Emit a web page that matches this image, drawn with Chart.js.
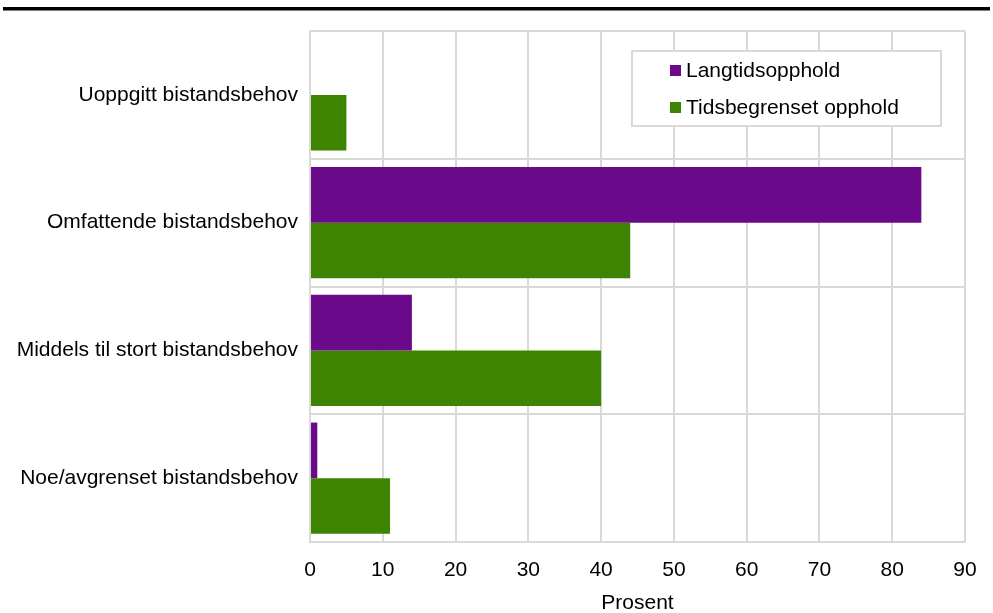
<!DOCTYPE html>
<html>
<head>
<meta charset="utf-8">
<script src="https://cdn.jsdelivr.net/npm/chart.js@4.4.0/dist/chart.umd.min.js"></script>
<style>
  body { margin: 0; background: #fff; }
  #wrap { width: 993px; height: 613px; }
</style>
</head>
<body>
<div id="wrap"><canvas id="bistandChart" width="993" height="613"></canvas></div>
<script>
const categories = [
  "Uoppgitt bistandsbehov",
  "Omfattende bistandsbehov",
  "Middels til stort bistandsbehov",
  "Noe/avgrenset bistandsbehov"
];
const langtid = [0, 84, 14, 1];
const tidsbegrenset = [5, 44, 40, 11];
const xTicks = [0, 10, 20, 30, 40, 50, 60, 70, 80, 90];

const FONT = "'Liberation Sans', Arial, sans-serif";
const GRID = "#d9d9d9";

// black rule at the top of the figure
const topRule = {
  id: "topRule",
  beforeDraw(chart) {
    const ctx = chart.ctx;
    ctx.save();
    ctx.fillStyle = "#fff";
    ctx.fillRect(0, 0, chart.width, chart.height);
    ctx.fillStyle = "#000";
    ctx.fillRect(3, 7, 987, 3.5);
    ctx.restore();
  }
};

// legend box inside the plot area
const boxLegend = {
  id: "boxLegend",
  afterDraw(chart) {
    const ctx = chart.ctx;
    ctx.save();
    ctx.fillStyle = "#fff";
    ctx.fillRect(632, 51, 309, 75);
    ctx.strokeStyle = GRID;
    ctx.lineWidth = 2;
    ctx.strokeRect(632, 51, 309, 75);
    ctx.font = "21px " + FONT;
    ctx.textBaseline = "middle";
    chart.data.datasets.forEach((ds, i) => {
      const y = 71 + i * 37;
      ctx.fillStyle = ds.backgroundColor;
      ctx.fillRect(670, y - 6, 11, 11);
      ctx.fillStyle = "#000";
      ctx.fillText(ds.label, 686, y);
    });
    ctx.restore();
  }
};

new Chart(document.getElementById("bistandChart"), {
  type: "bar",
  data: {
    labels: categories,
    datasets: [
      { label: "Langtidsopphold", data: langtid, backgroundColor: "#6a0a8a" },
      { label: "Tidsbegrenset opphold", data: tidsbegrenset, backgroundColor: "#3d8400" }
    ]
  },
  options: {
    indexAxis: "y",
    responsive: false,
    animation: false,
    layout: { padding: { top: 31, right: 28, bottom: 2, left: 0 } },
    datasets: { bar: { categoryPercentage: 0.87, barPercentage: 1 } },
    plugins: { legend: { display: false }, tooltip: { enabled: false } },
    scales: {
      x: {
        min: 0,
        max: 90,
        afterBuildTicks: (s) => { s.ticks = xTicks.map(v => ({ value: v })); },
        afterFit: (s) => { s.height = 69; },
        grid: { color: GRID, lineWidth: 2, drawTicks: false },
        border: { color: GRID, width: 2 },
        ticks: { color: "#000", font: { family: FONT, size: 21 }, padding: 16 },
        title: { display: true, text: "Prosent", color: "#000", font: { family: FONT, size: 21 }, padding: { top: 0, bottom: -5 } }
      },
      y: {
        afterFit: (s) => { s.width = 310; },
        grid: { color: GRID, lineWidth: 2, drawTicks: false, offset: true },
        border: { color: GRID, width: 2 },
        ticks: { color: "#000", font: { family: FONT, size: 21 }, padding: 12 }
      }
    }
  },
  plugins: [topRule, boxLegend]
});
</script>
</body>
</html>
